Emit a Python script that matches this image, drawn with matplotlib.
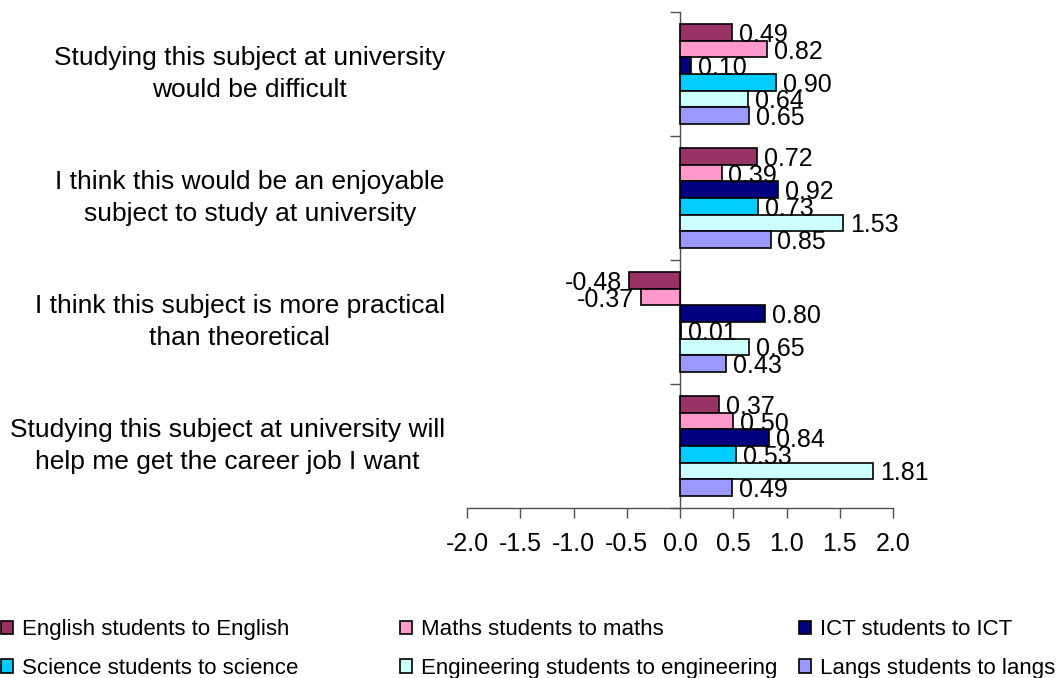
import matplotlib
matplotlib.use("Agg")
import matplotlib.pyplot as plt
import numpy as np

plt.rcParams['font.family'] = ['Liberation Sans', 'DejaVu Sans']

categories = [
    "Studying this subject at university\nwould be difficult",
    "I think this would be an enjoyable\nsubject to study at university",
    "I think this subject is more practical\nthan theoretical",
    "Studying this subject at university will\nhelp me get the career job I want",
]
series_names = [
    "English students to English",
    "Maths students to maths",
    "ICT students to ICT",
    "Science students to science",
    "Engineering students to engineering",
    "Langs students to langs",
]
english = [0.49, 0.72, -0.48, 0.37]
maths = [0.82, 0.39, -0.37, 0.50]
ict = [0.10, 0.92, 0.80, 0.84]
science = [0.90, 0.73, 0.01, 0.53]
engineering = [0.64, 1.53, 0.65, 1.81]
langs = [0.65, 0.85, 0.43, 0.49]
series_values = [english, maths, ict, science, engineering, langs]
colors = ["#993366", "#FF99CC", "#000080", "#00CCFF", "#CCFFFF", "#9999FF"]
x_ticks = [-2.0, -1.5, -1.0, -0.5, 0.0, 0.5, 1.0, 1.5, 2.0]

W, H = 1063, 678
fig = plt.figure(figsize=(W / 100, H / 100), dpi=100)
ax = fig.add_axes([467 / W, 1 - 508 / H, (893 - 467) / W, (508 - 12) / H])

axis_col = "#505050"
n = len(series_values)
bar_h = 0.134
y = np.arange(len(categories))
bars = []
for i, (vals, col, name) in enumerate(zip(series_values, colors, series_names)):
    pos = y - (n / 2) * bar_h + (i + 0.5) * bar_h
    b = ax.barh(pos, vals, height=bar_h, color=col, edgecolor="black",
                linewidth=1.2, label=name, zorder=3)
    bars.append(b)
    for p, v in zip(pos, vals):
        off = 5 if v >= 0 else -5
        ax.annotate(f"{v:.2f}", xy=(v, p), xytext=(off, 0),
                    textcoords="offset points", ha="left" if v >= 0 else "right",
                    va="center_baseline", fontsize=18, zorder=4)

ax.set_xlim(-2, 2)
ax.set_ylim(len(categories) - 0.5, -0.5)
ax.set_xticks(x_ticks)
ax.set_xticklabels([f"{t:.1f}" for t in x_ticks], fontsize=18)
ax.tick_params(axis="x", direction="out", length=7, width=1, color=axis_col, pad=10)

ax.spines["top"].set_visible(False)
ax.spines["right"].set_visible(False)
ax.spines["left"].set_position(("data", 0))
for s in ("left", "bottom"):
    ax.spines[s].set_color(axis_col)
    ax.spines[s].set_linewidth(1.0)

ax.set_yticks([])
ax.set_yticks(np.arange(-0.5, len(categories)), minor=True)
ax.tick_params(axis="y", which="minor", direction="out", length=7, width=1,
               color=axis_col, labelleft=False)

for yi, cat in zip(y, categories):
    ax.text(-0.052, yi, cat, transform=ax.get_yaxis_transform(), ha="right",
            va="center", multialignment="center", fontsize=19, linespacing=1.42)

# legend: three equal-width columns of two entries each
col_x = [1 / W, 400 / W, 799 / W]
for c in range(3):
    hs = [bars[c], bars[c + 3]]
    ls = [series_names[c], series_names[c + 3]]
    fig.legend(hs, ls, loc="upper left", bbox_to_anchor=(col_x[c], 1 - 619 / H),
               frameon=False, fontsize=16, handlelength=0.54, handleheight=0.54,
               handletextpad=0.4, labelspacing=0.8, borderpad=0.0, borderaxespad=0.0)

fig.savefig("out.png", dpi=100)
